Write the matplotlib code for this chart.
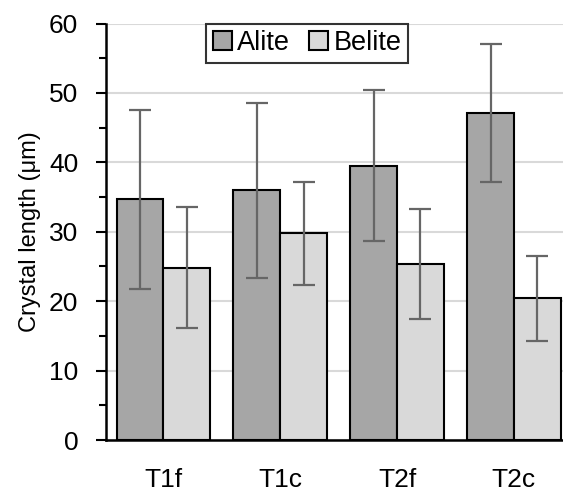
import numpy as np
import matplotlib
matplotlib.use('Agg')
import matplotlib.pyplot as plt
from matplotlib.ticker import MultipleLocator

plt.rcParams['font.family'] = ['Liberation Sans', 'DejaVu Sans']

SAMPLES = ['T1f', 'T1c', 'T2f', 'T2c']
ALITE = [34.7, 36.0, 39.5, 47.1]
ALITE_ERR = [12.9, 12.6, 10.9, 10.0]
BELITE = [24.8, 29.8, 25.4, 20.4]
BELITE_ERR = [8.7, 7.4, 7.9, 6.1]

WIDTH = 0.4


def main():
    fig = plt.figure(figsize=(5.63, 4.94), dpi=100)
    ax = fig.add_axes([0.1883, 0.1093, 0.8117, 0.8431])

    x = np.arange(len(SAMPLES))
    err_kw = dict(ecolor='#666666', elinewidth=1.6, capsize=8, capthick=1.6, zorder=4)

    ax.bar(x - WIDTH / 2, ALITE, WIDTH, yerr=ALITE_ERR, color='#a6a6a6',
           edgecolor='black', linewidth=1.5, label='Alite', error_kw=err_kw, zorder=3)
    ax.bar(x + WIDTH / 2, BELITE, WIDTH, yerr=BELITE_ERR, color='#d9d9d9',
           edgecolor='black', linewidth=1.5, label='Belite', error_kw=err_kw, zorder=3)

    ax.set_xlim(-0.49, 3.42)
    ax.set_ylim(0, 60)
    ax.yaxis.set_major_locator(MultipleLocator(10))
    ax.yaxis.set_minor_locator(MultipleLocator(5))
    ax.grid(axis='y', which='major', color='#d9d9d9', linewidth=1.5, zorder=0)
    ax.set_axisbelow(True)

    ax.set_xticks(x)
    ax.set_xticklabels(SAMPLES)
    ax.tick_params(axis='x', length=0, labelsize=19, pad=20)
    ax.tick_params(axis='y', which='major', length=7, width=1.5, labelsize=19, pad=13)
    ax.tick_params(axis='y', which='minor', length=5, width=1.5)

    for side in ['top', 'right']:
        ax.spines[side].set_visible(False)
    for side in ['left', 'bottom']:
        ax.spines[side].set_linewidth(1.8)
        ax.spines[side].set_color('black')

    ax.set_ylabel('Crystal length (μm)', fontsize=17, labelpad=6)

    leg = ax.legend(loc='upper left', bbox_to_anchor=(0.219, 1.0), ncol=2, fontsize=19.5,
                    frameon=True, fancybox=False, edgecolor='black', borderpad=0.25,
                    handlelength=0.7, handleheight=0.7, handletextpad=0.2,
                    columnspacing=0.7, borderaxespad=0)
    leg.get_frame().set_linewidth(1.5)
    leg.set_zorder(5)

    fig.savefig('out.png', dpi=100)


if __name__ == '__main__':
    main()
